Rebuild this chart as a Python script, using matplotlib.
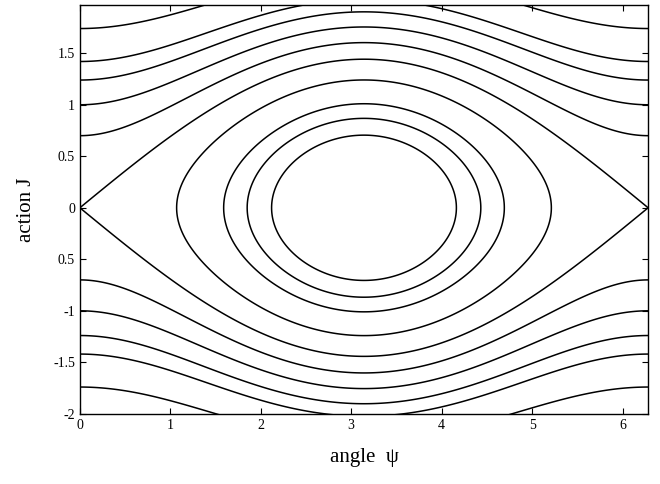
import numpy as np
import matplotlib
matplotlib.use("Agg")
import matplotlib.pyplot as plt

plt.rcParams["font.family"] = ["Liberation Serif", "DejaVu Serif"]

# pendulum Hamiltonian H = J^2/2 + K cos(psi), elliptic point at psi = pi
K = 0.52
# closed orbits: turning angle where J = 0
TURN_PSI = [1.07, 1.59, 1.85, 2.12]
# rotating orbits: |J| at psi = 0
ROT_J0 = [0.70, 1.00, 1.24, 1.42, 1.74]

YTICKS = [-2, -1.5, -1, -0.5, 0, 0.5, 1, 1.5]
YTICKLABELS = ["-2", "-1.5", "-1", "0.5", "0", "0.5", "1", "1.5"]
XTICKS = [0, 1, 2, 3, 4, 5, 6]


def hamiltonian(psi, J):
    return 0.5 * J ** 2 + K * np.cos(psi)


levels = sorted([hamiltonian(a, 0.0) for a in TURN_PSI]
                + [K]
                + [hamiltonian(0.0, j) for j in ROT_J0])

psi = np.linspace(0, 2 * np.pi, 1201)
J = np.linspace(-2.6, 2.6, 1201)
P, JJ = np.meshgrid(psi, J)
H = hamiltonian(P, JJ)

fig = plt.figure(figsize=(6.6, 4.84), dpi=100)
ax = fig.add_axes([0.121, 0.145, 0.861, 0.845])
ax.contour(P, JJ, H, levels=levels, colors="black", linewidths=1.1,
           linestyles="solid")

ax.set_xlim(0, 2 * np.pi)
ax.set_ylim(-2, 1.97)
ax.set_xticks(XTICKS)
ax.set_yticks(YTICKS)
ax.set_yticklabels(YTICKLABELS)
ax.tick_params(direction="in", top=True, right=True, length=4, width=0.8,
               labelsize=10)
for s in ax.spines.values():
    s.set_linewidth(1.0)

ax.set_xlabel("angle  \u03c8", fontsize=15, labelpad=12)
ax.set_ylabel("action J", fontsize=15, labelpad=12)

fig.savefig("out.png", dpi=100)
